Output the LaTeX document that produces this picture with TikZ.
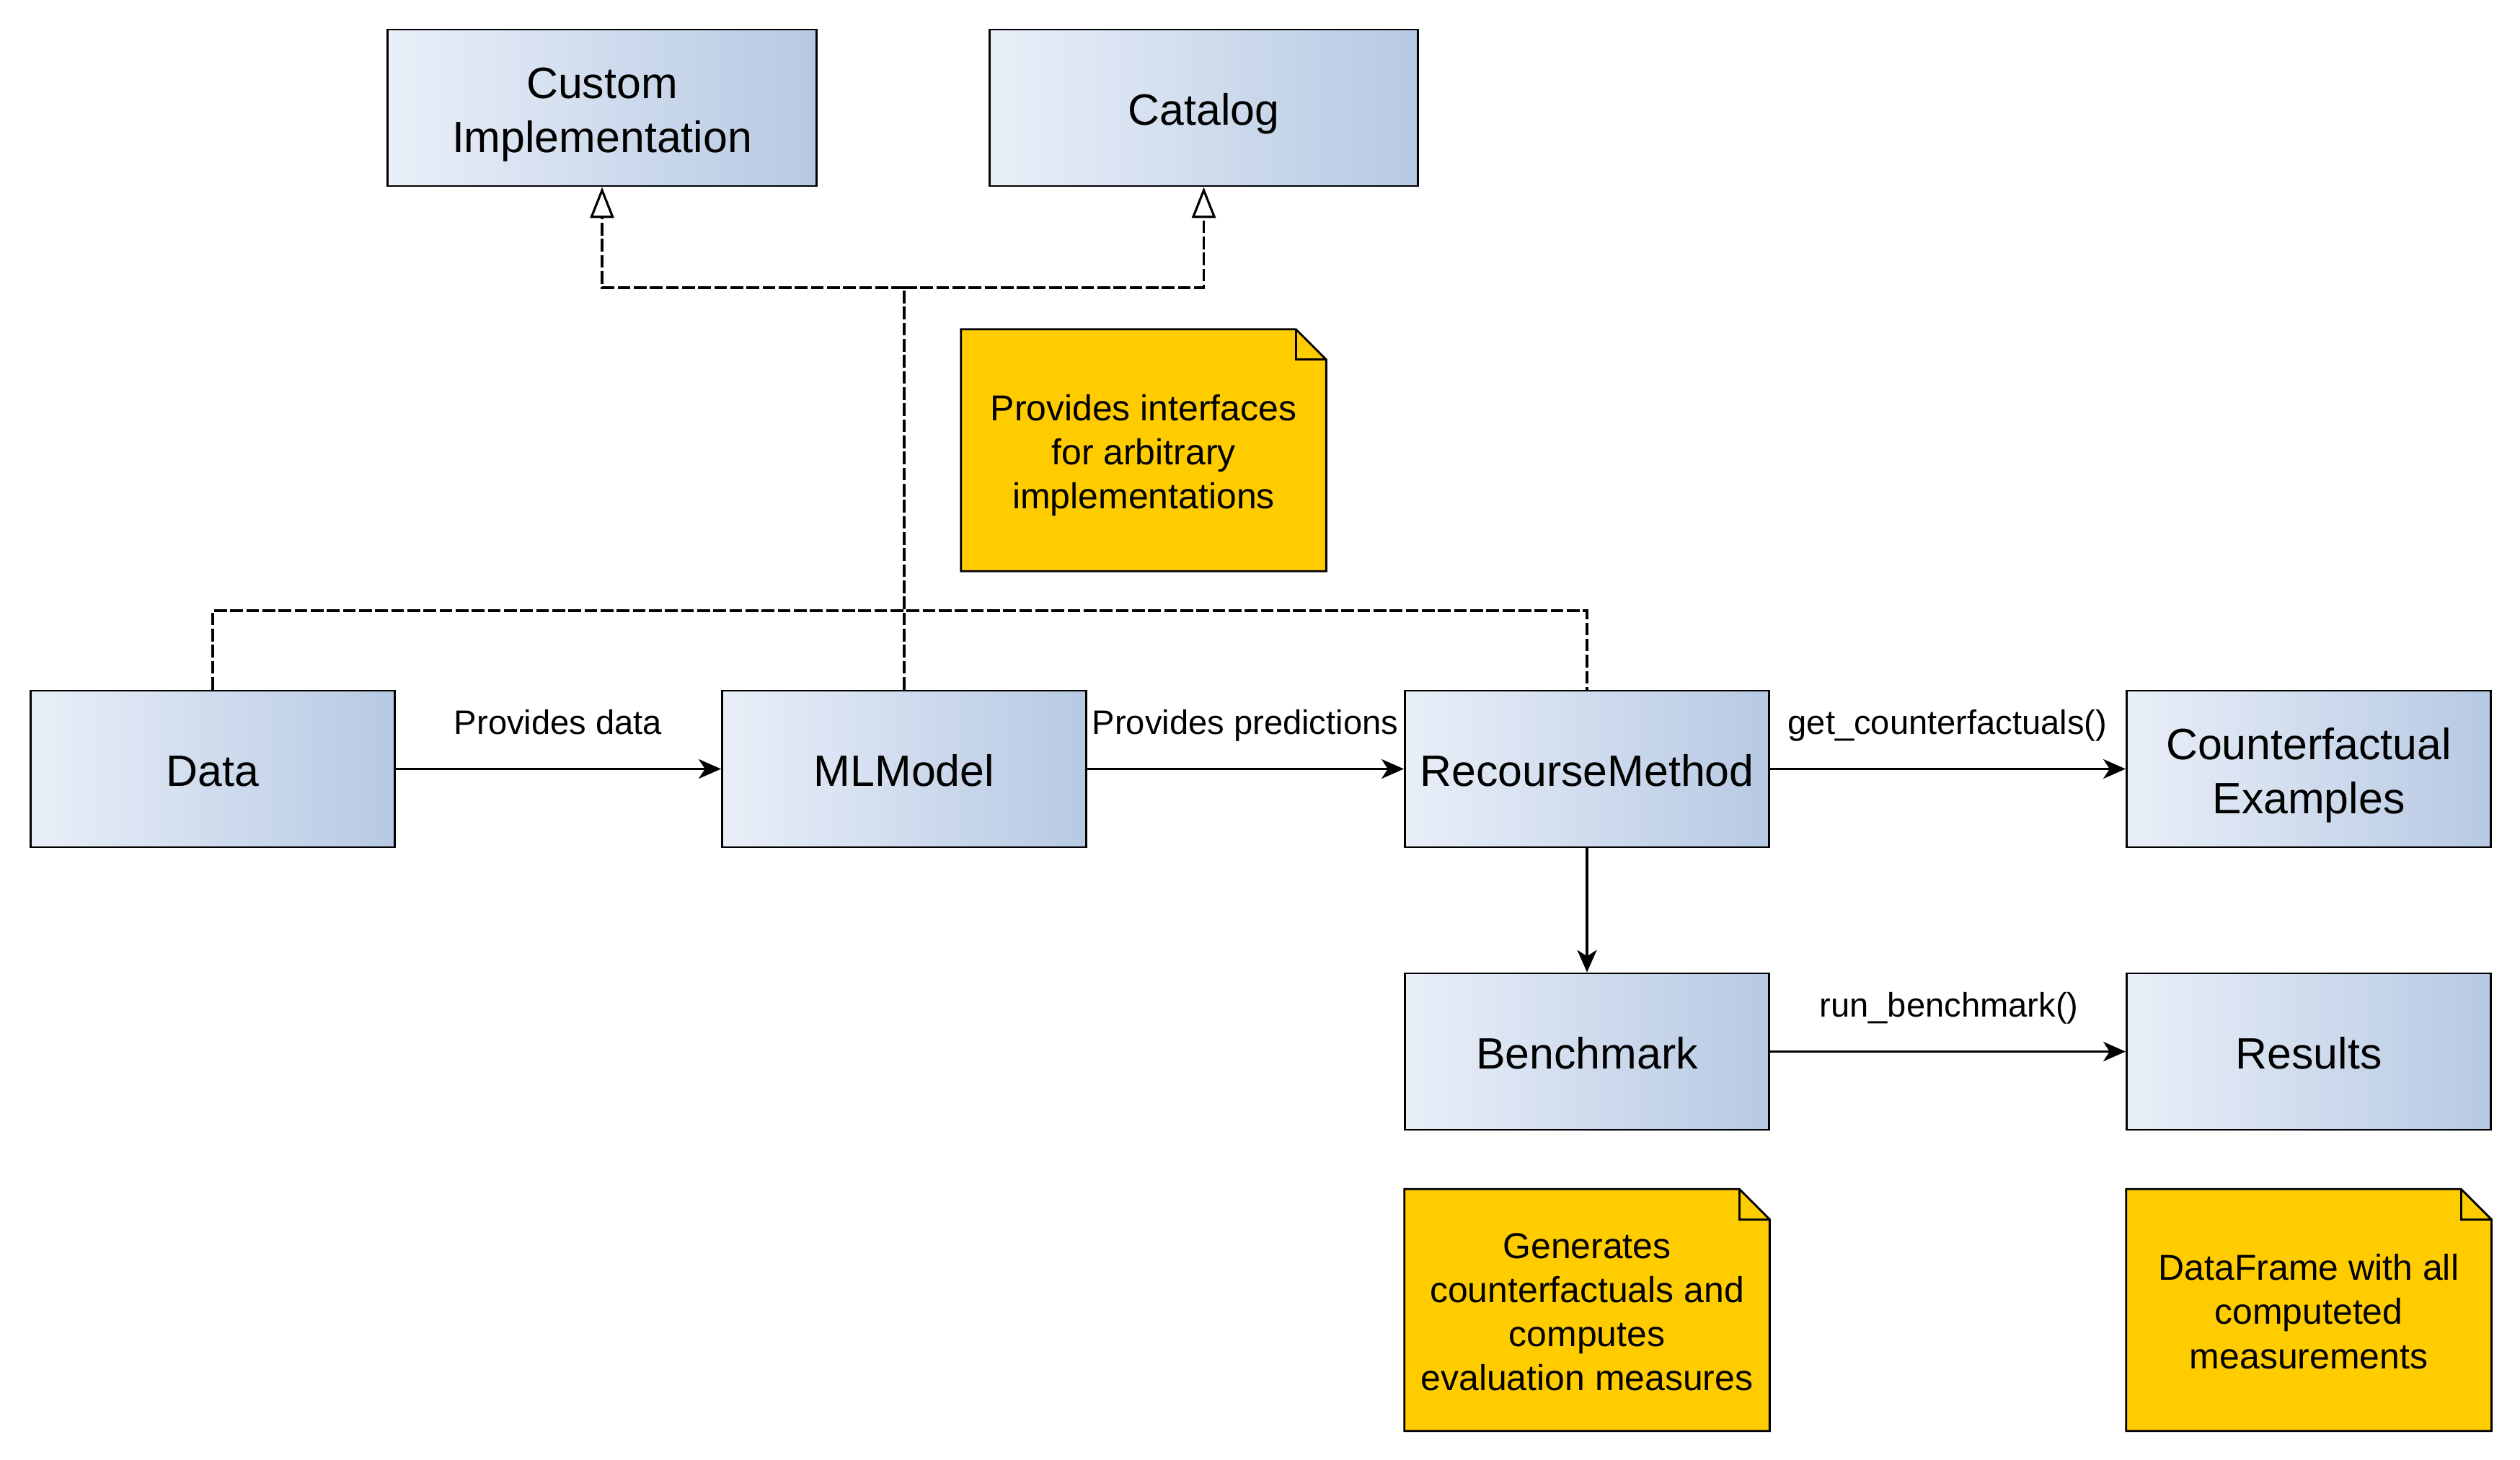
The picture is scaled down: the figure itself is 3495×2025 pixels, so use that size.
\documentclass[tikz,border=0pt]{standalone}
\usepackage{fontspec}
\setmainfont{Liberation Sans}
\usetikzlibrary{arrows.meta}
\usetikzlibrary{backgrounds}

\definecolor{boxleft}{RGB}{233,239,248}
\definecolor{boxright}{RGB}{183,201,227}
\definecolor{notefill}{RGB}{255,204,0}

\tikzset{
  classbox/.style={draw, line width=0.8pt, left color=boxleft, right color=boxright,
    minimum width=5.05cm, minimum height=2.17cm, inner sep=0pt, align=center,
    text height=17.3pt, text depth=3.46pt,
    font=\fontsize{17.3}{21.3}\selectfont},
  notebox/.style={minimum width=5.05cm, minimum height=3.34cm, inner sep=0pt, align=center,
    text depth=2.84pt, font=\fontsize{14.2}{17.4}\selectfont},
  flowlabel/.style={anchor=base, inner sep=0pt, font=\fontsize{13.4}{16}\selectfont},
  flow/.style={line width=0.9pt, -{Stealth[length=8.8pt, width=7.7pt, inset=2.5pt]}},
  dashline/.style={line width=0.9pt, dash pattern=on 5pt off 1.35pt},
  realize/.style={dashline, -{Triangle[length=12.2pt, width=9.4pt, fill=white]}},
}

\begin{document}
\begin{tikzpicture}[x=0.01cm, y=-0.01cm]
  \useasboundingbox (0,0) rectangle (3495,2025);

  % interfaces
  \node[classbox, minimum width=5.95cm, text height=38.6pt] (impl) at (835,149.5) {Custom\\Implementation};
  \node[classbox, minimum width=5.93cm] (catalog) at (1669.5,149.5) {Catalog};
  \node[notebox, text height=49pt] (noteiface) at (1586,624.5) {Provides interfaces\\for arbitrary\\implementations};

  % main pipeline
  \node[classbox] (data) at (295,1066.5) {Data};
  \node[classbox] (model) at (1254,1066.5) {MLModel};
  \node[classbox] (recourse) at (2201,1066.5) {RecourseMethod};
  \node[classbox, text height=38.6pt] (cfs) at (3202,1066.5) {Counterfactual\\Examples};

  % benchmarking
  \node[classbox] (bench) at (2201,1458.5) {Benchmark};
  \node[classbox] (results) at (3202,1458.5) {Results};
  \node[notebox, text height=66.4pt] (notebench) at (2201,1817) {Generates\\counterfactuals and\\computes\\evaluation measures};
  \node[notebox, text height=49pt] (noteresults) at (3202,1817) {DataFrame with all\\computeted\\measurements};

  \begin{scope}[on background layer]
    \fill[white] (0,0) rectangle (3495,2025);
    \foreach \nb in {noteiface,notebench,noteresults} {
      \filldraw[line width=0.8pt, fill=notefill] (\nb.south west) -- (\nb.north west)
        -- ([xshift=-0.42cm]\nb.north east) -- ([yshift=-0.42cm]\nb.north east)
        -- (\nb.south east) -- cycle;
      \draw[line width=0.8pt] ([xshift=-0.42cm]\nb.north east) |- ([yshift=-0.42cm]\nb.north east);
    }
  \end{scope}

  % dashed links to the interfaces
  \coordinate (hubtop) at (1254,399);
  \coordinate (hubmid) at (1254,847);
  \draw[dashline] (data.north) |- (hubmid) -| (recourse.north);
  \draw[dashline] (model.north) -- (hubtop);
  \draw[realize] (hubtop) -| (impl.south);
  \draw[realize] (hubtop) -| (catalog.south);

  % flow arrows
  \draw[flow] (data) -- (model);
  \draw[flow] (model) -- (recourse);
  \draw[flow] (recourse) -- (cfs);
  \draw[flow] (recourse) -- (bench);
  \draw[flow] (bench) -- (results);

  \node[flowlabel] (lbldata) at (774,1018) {Provides data};
  \node[flowlabel] (lblpred) at (1727,1018) {Provides predictions};
  \node[flowlabel] (lblcf) at (2701,1018) {get\_counterfactuals()};
  \node[flowlabel] (lblbench) at (2703,1410) {run\_benchmark()};
\end{tikzpicture}
\end{document}
